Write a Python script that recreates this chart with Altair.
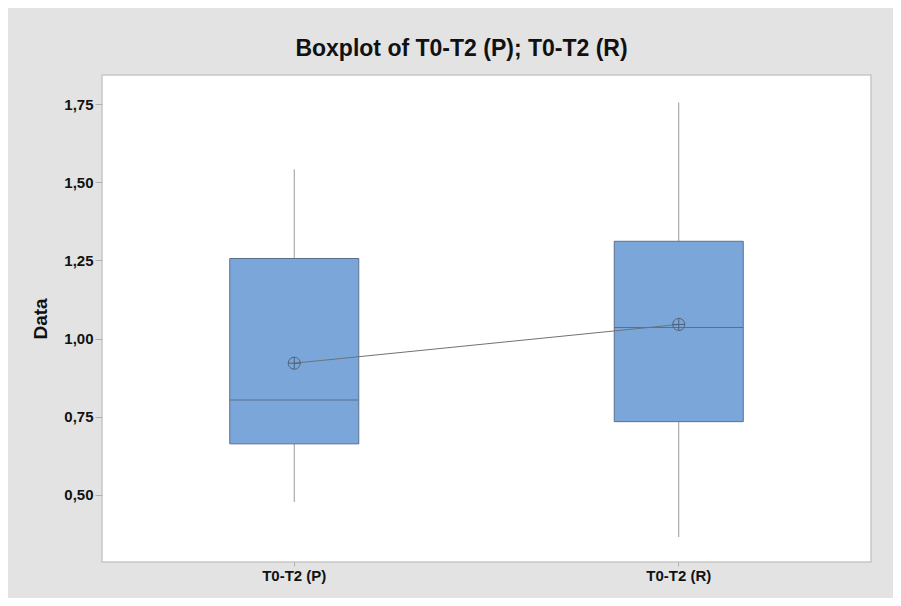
import altair as alt
import pandas as pd

groups = ["T0-T2 (P)", "T0-T2 (R)"]
whisker_low = [0.477, 0.365]
q1 = [0.663, 0.734]
median = [0.803, 1.035]
q3 = [1.256, 1.311]
whisker_high = [1.541, 1.755]
means = [0.921, 1.045]

y_ticks = [0.50, 0.75, 1.00, 1.25, 1.50, 1.75]
y_domain = [0.285, 1.843]

df = pd.DataFrame({
    "group": groups,
    "lo": whisker_low,
    "q1": q1,
    "med": median,
    "q3": q3,
    "hi": whisker_high,
    "mean": means,
})

FONT = "Liberation Sans"
BOX_FILL = "#7ba6d9"
BOX_STROKE = "#5b6f8c"

x_enc = alt.X(
    "group:N",
    sort=groups,
    title=None,
    scale=alt.Scale(paddingInner=0, paddingOuter=0),
    axis=alt.Axis(
        labelFont=FONT, labelFontSize=15, labelFontWeight="bold", labelColor="#111",
        labelAngle=0, tickSize=4, tickColor="#b0b0b0", domain=False, labelPadding=2,
    ),
)

y_scale = alt.Scale(domain=y_domain, nice=False, zero=False)
y_axis = alt.Axis(
    title="Data", titleFont=FONT, titleFontSize=19, titleFontWeight="bold",
    titleColor="#111", titlePadding=13,
    values=y_ticks,
    labelExpr="replace(format(datum.value, '.2f'), '.', ',')",
    labelFont=FONT, labelFontSize=15, labelFontWeight="bold", labelColor="#111",
    tickSize=7, tickColor="#b0b0b0", domain=False, grid=False, labelPadding=2,
)

base = alt.Chart(df)

whisk_low = base.mark_rule(color="#9a9a9a", strokeWidth=1).encode(
    x=x_enc, y=alt.Y("lo:Q", scale=y_scale, axis=y_axis), y2="q1:Q")
whisk_hi = base.mark_rule(color="#9a9a9a", strokeWidth=1).encode(
    x=x_enc, y=alt.Y("q3:Q", scale=y_scale, axis=y_axis), y2="hi:Q")
box = base.mark_bar(size=129, fill=BOX_FILL, stroke=BOX_STROKE, strokeWidth=1).encode(
    x=x_enc, y=alt.Y("q1:Q", scale=y_scale, axis=y_axis), y2="q3:Q")
med = base.mark_tick(size=129, thickness=1, color=BOX_STROKE, opacity=1).encode(
    x=x_enc, y=alt.Y("med:Q", scale=y_scale, axis=y_axis))
mean_line = base.mark_line(color="#6e7278", strokeWidth=1).encode(
    x=x_enc, y=alt.Y("mean:Q", scale=y_scale, axis=y_axis))
mean_pt = base.mark_point(
    shape="M -1 0 A 1 1 0 1 0 1 0 A 1 1 0 1 0 -1 0 M -1 0 L 1 0 M 0 -1 L 0 1",
    filled=False, size=144, stroke="#4f5f78", strokeWidth=1, opacity=1,
).encode(x=x_enc, y=alt.Y("mean:Q", scale=y_scale, axis=y_axis))

chart = alt.layer(whisk_low, whisk_hi, box, med, mean_line, mean_pt).properties(
    width=769,
    height=487,
    title=alt.TitleParams(
        "Boxplot of T0-T2 (P); T0-T2 (R)",
        font=FONT, fontSize=23, fontWeight="bold", color="#111",
        anchor="middle", dx=-25, offset=14,
    ),
    autosize=alt.AutoSizeParams(type="none"),
    padding={"left": 94, "top": 67, "right": 22, "bottom": 36},
    background="#e3e3e3",
).configure_view(
    fill="white", stroke="#c8c8c8", strokeWidth=1.5,
)

chart.save("out.html", embed_options={"renderer": "svg", "actions": False})
